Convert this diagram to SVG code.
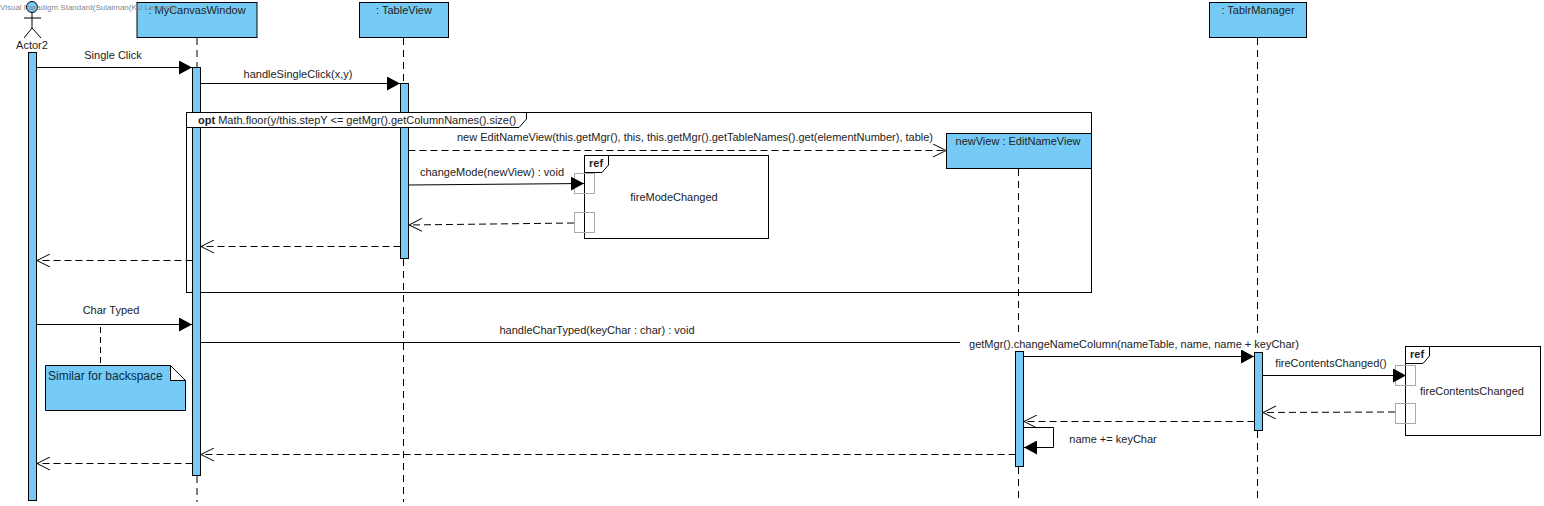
<svg xmlns="http://www.w3.org/2000/svg" width="1544" height="506" viewBox="0 0 1544 506">
<style>
text{font-family:"Liberation Sans",Arial,sans-serif;font-size:11px;fill:#222}
.m{text-anchor:middle}
.box{fill:#75CBF5;stroke:#000;stroke-width:1}
.life{stroke:#000;stroke-width:1;stroke-dasharray:7 5;fill:none}
.solid{stroke:#000;stroke-width:1;fill:none}
.sync{stroke:#000;stroke-width:1;fill:none;marker-end:url(#filled)}
.ret{stroke:#000;stroke-width:1;stroke-dasharray:7 4;fill:none;marker-end:url(#open)}
.frame{fill:#fff;stroke:#000;stroke-width:1}
.gate{fill:none;stroke:#aaa;stroke-width:1}
</style>
<defs>
<marker id="filled" markerUnits="userSpaceOnUse" markerWidth="14" markerHeight="14" refX="13" refY="7" orient="auto"><path d="M0 0L13 7L0 14Z" fill="#000"/></marker>
<marker id="open" markerUnits="userSpaceOnUse" markerWidth="14" markerHeight="14" refX="13" refY="7" orient="auto"><path d="M0 0.5L13 7L0 13.5" fill="none" stroke="#000"/></marker>
</defs>
<rect width="1544" height="506" fill="#fff"/>

<g id="lifelines">
<path class="life" d="M197 38V67M197 476V502"/>
<path class="life" d="M403.500 38V83M403.500 259V502"/>
<path class="life" d="M1018.500 169V337M1018.500 467V502"/>
<path class="life" d="M1257.500 38V337M1257.500 431V502"/>
</g>

<g id="frame-opt">
<rect x="186.500" y="112.500" width="905" height="180" fill="none" stroke="#000"/>
</g>

<g id="actor2">
<circle cx="32" cy="7" r="5.500" fill="#75CBF5" stroke="#000"/>
<path class="solid" d="M32 12.500V28M24 18H41M32 28L24 38M32 28L41 38"/>
<text class="m" x="32" y="49">Actor2</text>
<rect class="box" x="28.500" y="52.500" width="8" height="448"/>
</g>

<g id="mycanvaswindow">
<rect class="box" x="137" y="2.500" width="120" height="35"/>
<text class="m" x="197" y="14">: MyCanvasWindow</text>
<rect class="box" x="192.500" y="67.500" width="8" height="408"/>
</g>

<g id="tableview">
<rect class="box" x="359.500" y="2.500" width="89" height="35"/>
<text class="m" x="404" y="14">: TableView</text>
<rect class="box" x="400.500" y="83.500" width="8" height="175"/>
</g>

<g id="opt-label">
<path d="M186.500 112.500H526.500V119L519 127.500H186.500Z" fill="#fff" stroke="#000"/>
<text x="198" y="124"><tspan font-weight="bold">opt</tspan> Math.floor(y/this.stepY &lt;= getMgr().getColumnNames().size()</text>
</g>

<g id="editnameview">
<rect class="box" x="946.500" y="133.500" width="145" height="35"/>
<text class="m" x="1018" y="145">newView : EditNameView</text>
</g>

<g id="tablrmanager">
<rect class="box" x="1209.500" y="2.500" width="97" height="35"/>
<text class="m" x="1258" y="14">: TablrManager</text>
<rect class="box" x="1254.500" y="352.500" width="8" height="78"/>
</g>

<g id="editnameview-activation">
<rect class="box" x="1015.500" y="351.500" width="8" height="115"/>
</g>

<g id="ref-firemodechanged">
<rect class="frame" x="584.500" y="155.500" width="184" height="83"/>
<path class="solid" d="M584.500 172.500H602L608.500 165V155.500"/>
<text x="589" y="167" style="font-weight:bold">ref</text>
<text class="m" x="674" y="201">fireModeChanged</text>
<rect class="gate" x="574.500" y="173.500" width="20" height="20"/>
<rect class="gate" x="574.500" y="212.500" width="20" height="20"/>
</g>

<g id="ref-firecontentschanged">
<rect class="frame" x="1405.500" y="346.500" width="135" height="89"/>
<path class="solid" d="M1405.500 363.500H1423L1429.500 356V346.500"/>
<text x="1410" y="358" style="font-weight:bold">ref</text>
<text class="m" x="1472" y="395">fireContentsChanged</text>
<rect class="gate" x="1395.500" y="365.500" width="20" height="20"/>
<rect class="gate" x="1395.500" y="403.500" width="20" height="20"/>
</g>

<g id="note">
<path d="M100.500 327V365" class="life" style="stroke-dasharray:6 4"/>
<path class="box" d="M45.500 365.500H170.500L185.500 380.500V410.500H45.500Z"/>
<path d="M170.500 365.500V380.500H185.500Z" fill="#fff" stroke="#000"/>
<text x="48" y="380" style="font-size:12px;fill:#0c2a40">Similar for backspace</text>
</g>

<g id="connectors">
<path class="sync" d="M36.500 67.500H192"/>
<path class="sync" d="M200.500 83.500H400"/>
<path class="ret" d="M408.500 150.500H946"/>
<path class="sync" d="M408.500 185L584 183.500"/>
<path class="ret" d="M574 223L409 225"/>
<path class="ret" d="M400.500 246.500H201"/>
<path class="ret" d="M192.500 260.500H37"/>
<path class="sync" d="M36.500 324.500H192"/>
<path class="solid" d="M200.500 342.500H960"/>
<path class="sync" d="M1023.500 356.500H1254"/>
<path class="sync" d="M1262.500 375.500H1406"/>
<path class="ret" d="M1395 412L1263 412.500"/>
<path class="ret" d="M1254.500 421.500H1024"/>
<path class="sync" d="M1023.500 427.500H1053.500V447.500H1024"/>
<path class="ret" d="M1015.500 454.500H201"/>
<path class="ret" d="M192.500 463.500H37"/>
</g>

<g id="labels">
<text class="m" x="113" y="59">Single Click</text>
<text class="m" x="298" y="78">handleSingleClick(x,y)</text>
<text class="m" x="695" y="141">new EditNameView(this.getMgr(), this, this.getMgr().getTableNames().get(elementNumber), table)</text>
<text class="m" x="492" y="176">changeMode(newView) : void</text>
<text class="m" x="111" y="314">Char Typed</text>
<text class="m" x="597" y="334">handleCharTyped(keyChar : char) : void</text>
<text class="m" x="1134" y="348">getMgr().changeNameColumn(nameTable, name, name + keyChar)</text>
<text class="m" x="1331" y="367">fireContentsChanged()</text>
<text class="m" x="1113" y="443">name += keyChar</text>
</g>
<text x="0" y="10" style="font-size:8px;fill:#888">Visual Paradigm Standard(Sulaiman(KU Leuven))</text>
</svg>
